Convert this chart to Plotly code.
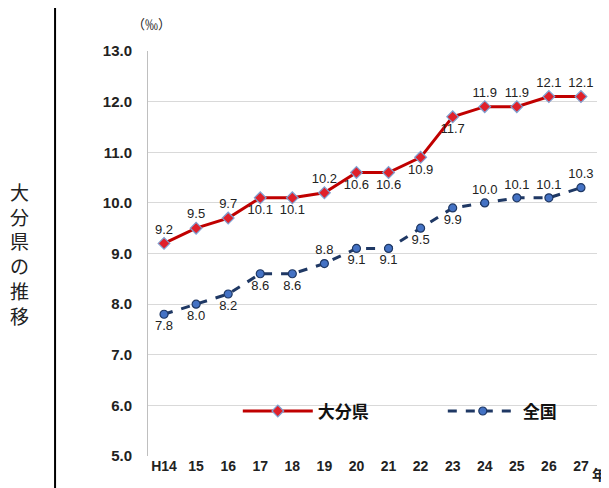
import plotly.graph_objects as go

years = ["H14", "15", "16", "17", "18", "19", "20", "21", "22", "23", "24", "25", "26", "27"]
oita = [9.2, 9.5, 9.7, 10.1, 10.1, 10.2, 10.6, 10.6, 10.9, 11.7, 11.9, 11.9, 12.1, 12.1]
zenkoku = [7.8, 8.0, 8.2, 8.6, 8.6, 8.8, 9.1, 9.1, 9.5, 9.9, 10.0, 10.1, 10.1, 10.3]
oita_pos = ["top", "top", "top", "bottom", "bottom", "top", "bottom", "bottom", "bottom",
            "bottom", "top", "top", "top", "top"]
zen_pos = ["bottom", "bottom", "bottom", "bottom", "bottom", "top", "bottom", "bottom",
           "bottom", "bottom", "top", "top", "top", "top"]

font = "Noto Sans CJK JP"
fig = go.Figure()
fig.add_trace(go.Scatter(
    x=years, y=oita, name="大分県", mode="lines+markers+text",
    line=dict(color="#C00000", width=3),
    marker=dict(symbol="diamond", size=9, color="#E0202A", line=dict(color="#7F9FD0", width=1.2)),
    text=[f"{v:.1f}" for v in oita], textposition=[p + " center" for p in oita_pos],
    textfont=dict(size=13, color="#222", family="Liberation Sans"), cliponaxis=False))
fig.add_trace(go.Scatter(
    x=years, y=zenkoku, name="全国", mode="lines+markers+text",
    line=dict(color="#1F3864", width=3, dash="dash"),
    marker=dict(symbol="circle", size=8, color="#4472C4", line=dict(color="#1F3864", width=1.2)),
    text=[f"{v:.1f}" for v in zenkoku], textposition=[p + " center" for p in zen_pos],
    textfont=dict(size=13, color="#222", family="Liberation Sans"), cliponaxis=False))

fig.update_layout(
    width=609, height=488, margin=dict(l=140, r=20, t=43, b=40, autoexpand=False),
    paper_bgcolor="white", plot_bgcolor="white",
    font=dict(family=font, size=13, color="#222"),
    showlegend=True,
    legend=dict(orientation="h", x=0.2, y=0.11, xanchor="left", yanchor="middle",
                font=dict(size=17, color="#111", weight="bold"), entrywidth=120,
                bgcolor="rgba(0,0,0,0)", itemwidth=70),
    xaxis=dict(type="category", range=[-0.5, 13.5], showgrid=False, ticks="",
               tickfont=dict(size=14, family="Liberation Sans", weight="bold"), showline=False),
    yaxis=dict(range=[5, 13], dtick=1, tickformat=".1f", showgrid=True, gridcolor="#D9D9D9",
               zeroline=False, showline=True, linecolor="#BFBFBF", ticks="",
               tickfont=dict(size=15, family="Liberation Sans", weight="bold"), ticklabelstandoff=12),
)
fig.add_shape(type="line", xref="paper", yref="paper", x0=-0.207, x1=-0.207, y0=-0.12, y1=1.12,
              line=dict(color="black", width=2))
fig.add_annotation(text="大<br>分<br>県<br>の<br>推<br>移", xref="paper", yref="paper",
                   x=-0.26, y=0.5, showarrow=False, font=dict(size=19, color="#222"),
                   xanchor="right", align="center")
fig.add_annotation(text="（‰）", xref="paper", yref="paper", x=-0.04, y=1.04,
                   showarrow=False, font=dict(size=13), yanchor="bottom")
fig.add_annotation(text="年", xref="paper", yref="paper", x=0.985, y=-0.015,
                   showarrow=False, font=dict(size=14, weight="bold"), xanchor="left", yanchor="top")
fig.write_html("out.html")
